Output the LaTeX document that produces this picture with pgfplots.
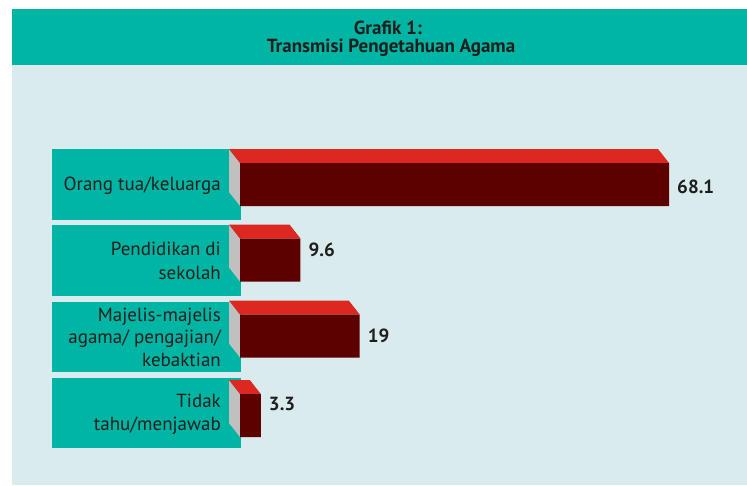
\documentclass[border=0pt]{standalone}
\usepackage{pgfplots}
\pgfplotsset{compat=1.18}
\usepackage{pgfplotstable}
\usepackage{fontspec}
\setmainfont{PT Sans}
\definecolor{tealbar}{HTML}{00B5A3}
\definecolor{panel}{HTML}{DAEBEE}
\definecolor{redtop}{HTML}{DC2820}
\definecolor{maroon}{HTML}{5C0000}
\definecolor{side}{HTML}{C0C0C0}
\definecolor{txt}{HTML}{1E1E1E}
% value, y (px row of bar centre), label shift
\pgfplotstableread{
v     y      dy
68.1  184.5  -2
9.6   260.0  10
19    336.0  0
3.3   415.5  12
}\bardata
\begin{document}
\begin{tikzpicture}[x=1pt,y=-1pt]
\fill[white] (0,0) rectangle (747,485);
\fill[panel] (12,65) rectangle (747,485);
\fill[tealbar] (12,9) rectangle (747,65);
\node[font=\fontsize{19}{20}\selectfont\bfseries, text=txt, anchor=base] at (388,34) {Grafik 1:};
\node[font=\fontsize{19}{20}\selectfont\bfseries, text=txt, anchor=base] at (391,52.5) {Transmisi Pengetahuan Agama};
% category boxes
\fill[tealbar] (52,149) rectangle (241,220);
\fill[tealbar] (52,225) rectangle (241,296);
\fill[tealbar] (52,302) rectangle (241,372);
\fill[tealbar] (52,378) rectangle (241,448);
\begin{scope}[every node/.style={anchor=base east, inner sep=0pt, text=txt, font=\fontsize{19}{22}\selectfont}]
\node at (221,190) {Orang tua/keluarga};
\node at (221,255.7) {Pendidikan di};
\node at (221,279) {sekolah};
\node at (221,321.7) {Majelis-majelis};
\node at (221,343.5) {agama/ pengajian/};
\node at (221,366) {kebaktian};
\node at (221,407) {Tidak};
\node at (221,430) {tahu/menjawab};
\end{scope}
\begin{axis}[
  at={(0pt,-485pt)}, anchor=south west,
  x=6.3pt, y=1pt, y dir=reverse,
  xmin=-38.0952, xmax=80.4762, ymin=0, ymax=485,
  hide axis, clip=false,
]
% side faces
\addplot[fill=side, draw=none, forget plot] coordinates {(-1.746,149) (0,163) (0,206) (-1.746,192)};
\addplot[fill=side, draw=none, forget plot] coordinates {(-1.746,224.5) (0,238.5) (0,281.5) (-1.746,267.5)};
\addplot[fill=side, draw=none, forget plot] coordinates {(-1.746,300.5) (0,314.5) (0,357.5) (-1.746,343.5)};
\addplot[fill=side, draw=none, forget plot] coordinates {(-1.746,380) (0,394) (0,437) (-1.746,423)};
% top faces
\addplot[fill=redtop, draw=none, forget plot] coordinates {(-1.746,149) (66.354,149) (68.1,163) (0,163)};
\addplot[fill=redtop, draw=none, forget plot] coordinates {(-1.746,224.5) (7.854,224.5) (9.6,238.5) (0,238.5)};
\addplot[fill=redtop, draw=none, forget plot] coordinates {(-1.746,300.5) (17.254,300.5) (19,314.5) (0,314.5)};
\addplot[fill=redtop, draw=none, forget plot] coordinates {(-1.746,380) (1.554,380) (3.3,394) (0,394)};
% front faces
\addplot[xbar, bar width=43, fill=maroon, draw=none,
  nodes near coords,
  point meta=explicit,
  visualization depends on={\thisrow{dy} \as \dy},
  every node near coord/.append style={anchor=west, xshift=8pt, yshift=\dy pt,
     font=\fontsize{19}{19}\selectfont\bfseries, text=txt, inner sep=0pt,
     /pgf/number format/assume math mode=true}]
  table[x=v, y=y, meta=v] {\bardata};
\end{axis}
\end{tikzpicture}
\end{document}
